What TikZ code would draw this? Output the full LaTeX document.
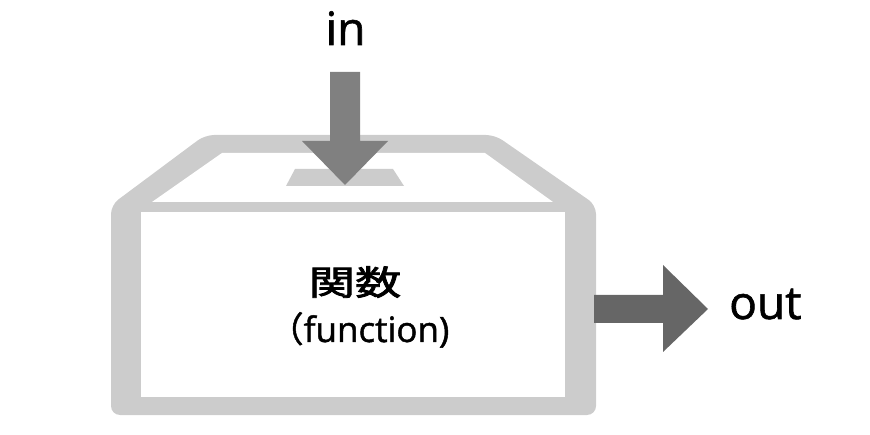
\documentclass[tikz,border=0pt]{standalone}
\usepackage{fontspec}
\setmainfont[FakeBold=1.3]{Open Sans}
\newfontfamily\jpfont[FakeBold=1.3]{Noto Sans CJK JP}
\newfontfamily\jpwide[FakeStretch=1.36,FakeBold=2.4]{Noto Sans CJK JP}
\definecolor{boxgray}{HTML}{CCCCCC}
\definecolor{ingray}{HTML}{808080}
\definecolor{outgray}{HTML}{666666}
\tikzset{
  lbl/.style={inner sep=0pt, text=black},
  bigtext/.style={lbl, font=\fontsize{46}{50}\selectfont},
}
\begin{document}
\begin{tikzpicture}[x=1pt,y=-1pt]
\useasboundingbox (0,0) rectangle (870,435);
% box body (gray frame)
\fill[boxgray, rounded corners=9pt] (111,205) -- (205,135) -- (495,135) -- (596,205) -- (596,415) -- (111,415) -- cycle;
% lid inner (white)
\fill[white] (152,202) -- (222,153) -- (485,153) -- (553,202) -- cycle;
% front face (white)
\fill[white] (141,212) rectangle (565,397);
% slot
\fill[boxgray] (295,169) -- (393,169) -- (404,186) -- (286,186) -- cycle;
% input arrow
\fill[ingray] (330,72) -- (360,72) -- (360,141) -- (388,141) -- (345,185) -- (302,141) -- (330,141) -- cycle;
% output arrow
\fill[outgray] (594,295) -- (663,295) -- (663,265) -- (708,309) -- (663,352) -- (663,323) -- (594,323) -- cycle;
% labels
\node[bigtext, anchor=base] (in) at (345.5,45) {in};
\node[bigtext, anchor=base west] (out) at (729,319) {out};
\node[lbl, anchor=base, font=\jpwide\fontsize{34}{38}\selectfont] (kansu) at (355,295) {関数};
\node[lbl, anchor=base, font=\fontsize{35}{38}\selectfont] (func) at (359,342) {{\jpfont （}function)};
\end{tikzpicture}
\end{document}
